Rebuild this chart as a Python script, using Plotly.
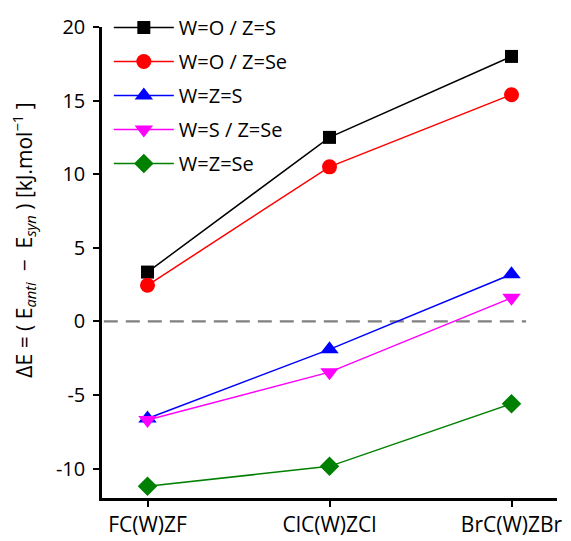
import plotly.graph_objects as go

categories = ["FC(W)ZF", "ClC(W)ZCl", "BrC(W)ZBr"]
series_names = ["W=O / Z=S", "W=O / Z=Se", "W=Z=S", "W=S / Z=Se", "W=Z=Se"]
wo_zs = [3.35, 12.5, 18.0]
wo_zse = [2.45, 10.5, 15.4]
wz_s = [-6.6, -1.9, 3.2]
ws_zse = [-6.7, -3.45, 1.6]
wz_se = [-11.2, -9.85, -5.6]
y_ticks = [-10, -5, 0, 5, 10, 15, 20]

values = [wo_zs, wo_zse, wz_s, ws_zse, wz_se]
colors = ["#000000", "#ff0000", "#0000ff", "#ff00ff", "#008000"]
symbols = ["square", "circle", "triangle-up", "triangle-down", "diamond"]
sizes = [13, 15, 16, 16, 15]

fig = go.Figure()
xs = list(range(len(categories)))
for i, (name, vals) in enumerate(zip(series_names, values)):
    fig.add_trace(go.Scatter(
        x=xs, y=vals, name=name, mode="lines+markers",
        legendgroup=f"g{i}",
        line=dict(color=colors[i], width=1.5),
        marker=dict(symbol=symbols[i], size=sizes[i], color=colors[i]),
    ))

fig.add_shape(type="line", xref="x", yref="y", x0=-0.24, x1=2.08, y0=0, y1=0,
              line=dict(color="#808080", width=2.2, dash="14px,8px"), layer="below")

nb = "\u00a0"
ytitle = (f"ΔE{nb}={nb}({nb}E<sub><i>anti</i></sub>{nb}{nb}−{nb}{nb}E<sub><i>syn</i></sub>{nb}){nb}"
          f"[kJ.mol<sup>−1</sup>{nb}]")

fig.add_annotation(text=ytitle, textangle=-90, xref="paper", yref="paper",
                   x=-0.172, y=0.548, xanchor="center", yanchor="middle",
                   showarrow=False, font=dict(size=21))

font = "Open Sans, Liberation Sans, sans-serif"
fig.update_layout(
    width=563, height=533,
    margin=dict(l=94, r=14, t=19, b=43, autoexpand=False),
    paper_bgcolor="white", plot_bgcolor="white",
    font=dict(family=font, size=20, color="black"),
    showlegend=True,
    legend=dict(x=0.015, y=1.0, xref="paper", yref="container",
                xanchor="left", yanchor="top",
                bgcolor="rgba(0,0,0,0)", font=dict(size=20),
                tracegroupgap=5, itemwidth=60),
    xaxis=dict(range=[-0.25, 2.25], tickmode="array", tickvals=xs,
               ticktext=categories, showline=True, linecolor="black",
               linewidth=2.5, ticks="outside", ticklen=6, tickwidth=2,
               tickcolor="black", showgrid=False, zeroline=False,
               tickfont=dict(size=21), automargin=False),
    yaxis=dict(range=[-12, 20], tickmode="array", tickvals=y_ticks,
               ticktext=[str(v) for v in y_ticks],
               showline=True, linecolor="black", linewidth=2.5,
               ticks="outside", ticklen=6, tickwidth=2, tickcolor="black",
               ticklabelstandoff=4,
               showgrid=False, zeroline=False, tickfont=dict(size=20),
               automargin=False),
)

fig.write_html("out.html")
